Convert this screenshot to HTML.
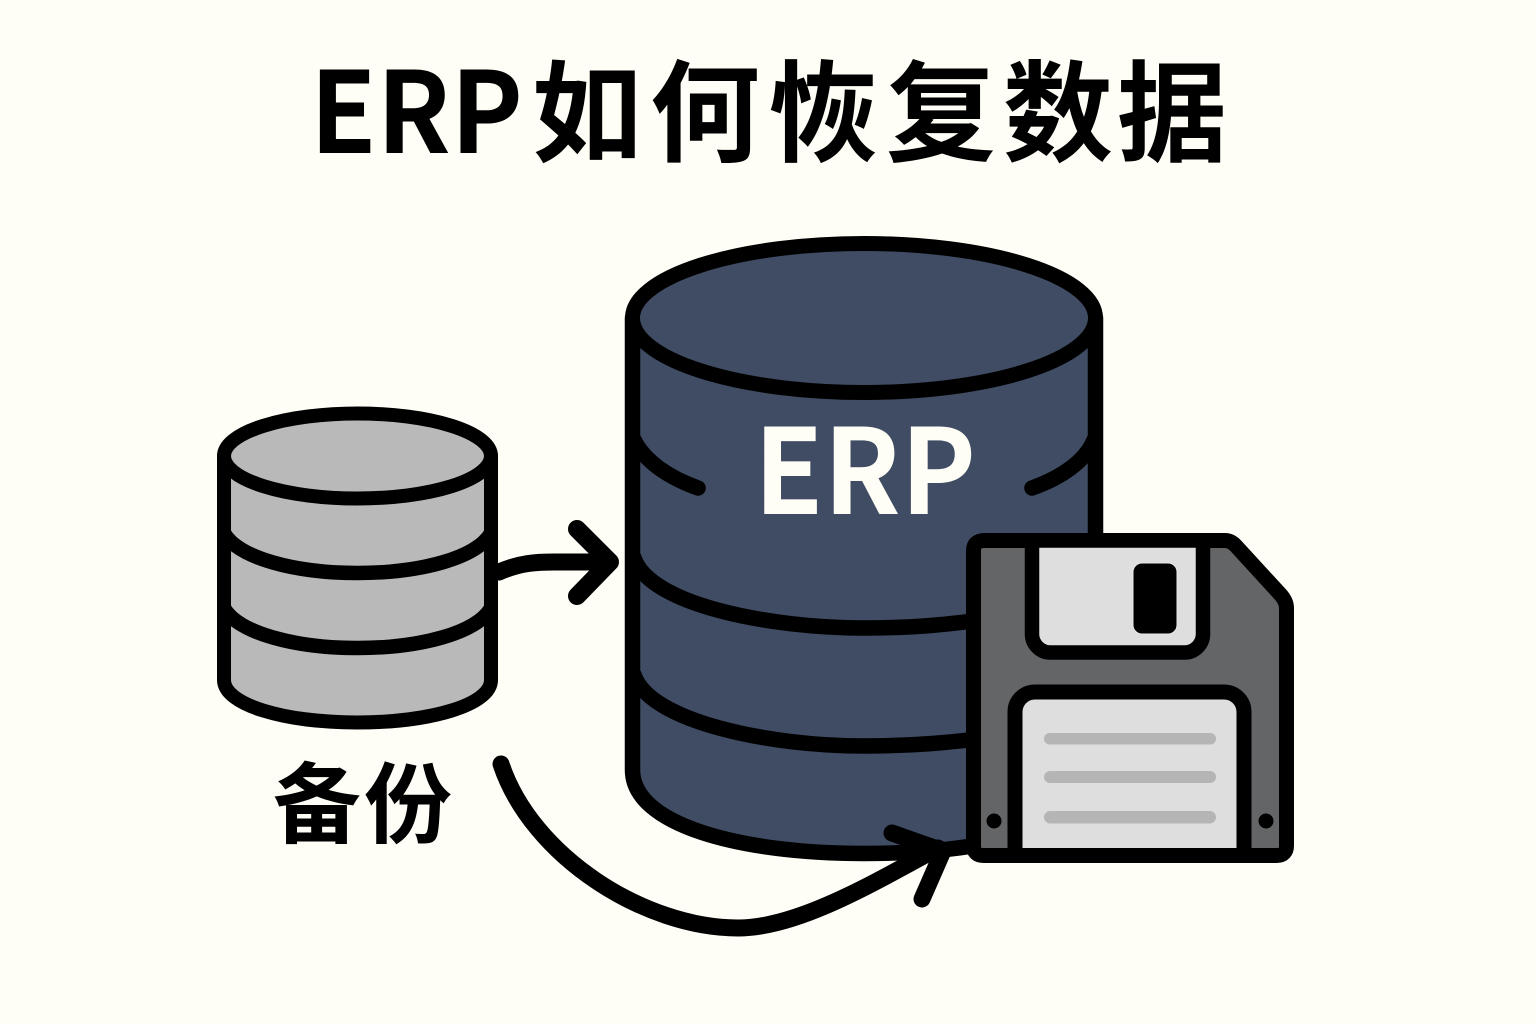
<!DOCTYPE html>
<html lang="zh">
<head>
<meta charset="utf-8">
<style>
html,body{margin:0;padding:0;background:#fffef6;width:1536px;height:1024px;overflow:hidden}
svg{display:block}
text{font-family:"Noto Sans CJK SC","Liberation Sans",sans-serif;font-weight:700}
</style>
</head>
<body>
<svg width="1536" height="1024" viewBox="0 0 1536 1024" xmlns="http://www.w3.org/2000/svg">
<rect width="1536" height="1024" fill="#fffef6"/>
<text x="310" y="153" font-size="113" textLength="213" lengthAdjust="spacingAndGlyphs" fill="#000">ERP</text>
<g font-size="110" fill="#000" text-anchor="middle">
<text x="587" y="153">如</text>
<text x="705" y="153">何</text>
<text x="823" y="153">恢</text>
<text x="941" y="153">复</text>
<text x="1058" y="153">数</text>
<text x="1172" y="153">据</text>
</g>

<!-- big cylinder -->
<path d="M632.500 318 V770 C632.500 825 740 853.500 864 853.500 C960 853.500 1040 840 1095.500 800 V318 Z" fill="#3f4c63"/>
<g fill="none" stroke="#000" stroke-width="15.500" stroke-linecap="round">
<path d="M634 440 C645 462 670 478 698 488"/>
<path d="M1032 488 C1060 478 1085 462 1094 440"/>
<path d="M634 558 C650 605 770 628 864 628 C910 628 950 625 1000 617"/>
<path d="M634 675 C650 722 770 746 864 746 C910 746 950 743 1000 736"/>
</g>
<path d="M632.500 318 V770 C632.500 825 740 853.500 864 853.500 C960 853.500 1040 840 1095.500 800 V318 Z" fill="none" stroke="#000" stroke-width="15.500" stroke-linejoin="round"/>
<ellipse cx="864" cy="318" rx="231.500" ry="74.500" fill="#3f4c63" stroke="#000" stroke-width="15"/>
<text x="754" y="514" font-size="118" fill="#fffef6" textLength="222" lengthAdjust="spacingAndGlyphs">ERP</text>

<!-- small cylinder -->
<path d="M224 456 V680 C224 705 285 722.500 357 722.500 C430 722.500 491 705 491 680 V456 Z" fill="#b9b9b9"/>
<g fill="none" stroke="#000" stroke-width="14.500">
<path d="M224 533 C238 558 295 573 357.500 573 C420 573 477 558 491 533"/>
<path d="M224 608 C238 633 295 648 357.500 648 C420 648 477 633 491 608"/>
</g>
<path d="M224 456 V680 C224 705 285 722.500 357 722.500 C430 722.500 491 705 491 680 V456 Z" fill="none" stroke="#000" stroke-width="14" stroke-linejoin="round"/>
<ellipse cx="357.500" cy="456" rx="133.500" ry="42.500" fill="#b9b9b9" stroke="#000" stroke-width="14"/>
<text x="317" y="836" font-size="88" fill="#000" text-anchor="middle">备</text>
<text x="408" y="836" font-size="88" fill="#000" text-anchor="middle">份</text>

<!-- arrows -->
<g fill="none" stroke="#000" stroke-linecap="round" stroke-linejoin="round">
<path d="M499 572 C520 563 535 562 555 562 H606" stroke-width="17"/>
<path d="M577 529 L610 562 L577 596" stroke-width="18"/>
<path d="M501 764 C532 857 645 928 738 928 C795 928 865 888 938 848" stroke-width="17"/>
<path d="M892 833 L943 851 L922 899" stroke-width="17"/>
</g>

<!-- floppy -->
<path d="M985 540.500 H1225 Q1231 540.500 1236 546 L1280 594 Q1286.500 601 1286.500 608 V845.500 Q1286.500 855.500 1276.500 855.500 H983.500 Q973.500 855.500 973.500 845.500 V550.500 Q973.500 540.500 985 540.500 Z" fill="#636567" stroke="#000" stroke-width="15" stroke-linejoin="round"/>
<path d="M1032 540.500 V634 A18.500 18.500 0 0 0 1050.500 652.500 H1184.500 A18.500 18.500 0 0 0 1203 634 V540.500 Z" fill="#dedede" stroke="#000" stroke-width="14.500"/>
<rect x="1133" y="563" width="44" height="71" rx="9" fill="#000" stroke="#e8e8e8" stroke-width="1"/>
<path d="M1015 855.500 V712 A20 20 0 0 1 1035 692 H1224 A20 20 0 0 1 1244 712 V855.500 Z" fill="#dedede" stroke="#000" stroke-width="15"/>
<g fill="#b5b5b5">
<rect x="1044" y="733" width="172" height="11.500" rx="5.750"/>
<rect x="1044" y="771" width="172" height="12" rx="6"/>
<rect x="1044" y="811" width="172" height="12.500" rx="6.250"/>
</g>
<circle cx="994" cy="821" r="7.500" fill="#000"/>
<circle cx="1266" cy="821" r="7.500" fill="#000"/>
</svg>
</body>
</html>
